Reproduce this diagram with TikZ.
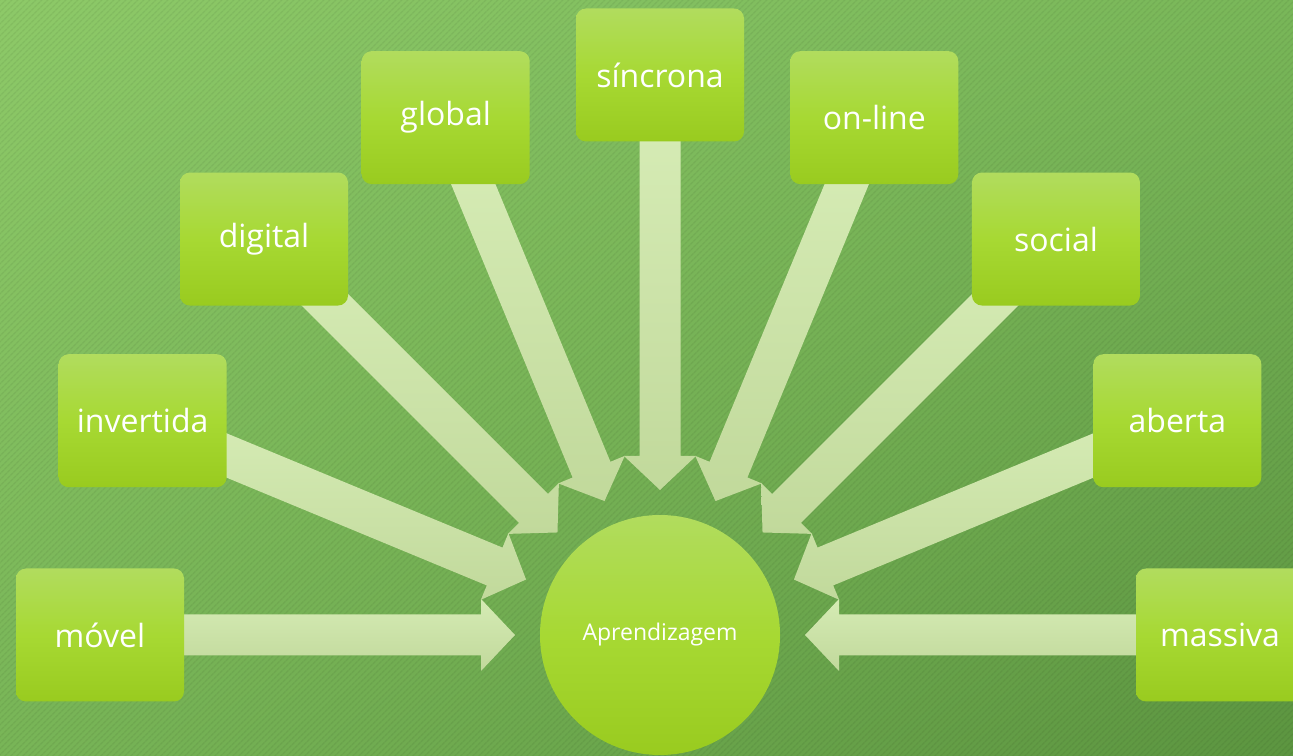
\documentclass[tikz,border=0pt]{standalone}
\usepackage{fontspec}
\setmainfont{Open Sans}
\usetikzlibrary{positioning,calc,patterns.meta,shadings}

\definecolor{fundoTE}{HTML}{8DC968}
\definecolor{fundoTD}{HTML}{79B759}
\definecolor{fundoBE}{HTML}{78B557}
\definecolor{fundoBD}{HTML}{5C9540}
\definecolor{caixaTopo}{HTML}{B1DC5E}
\definecolor{caixaMeio}{HTML}{A7D933}
\definecolor{caixaBase}{HTML}{99CB1F}
\definecolor{setaTopo}{HTML}{D5EBB4}
\definecolor{setaBase}{HTML}{C1D99B}

\pgfdeclarelayer{fundo}
\pgfdeclarelayer{setas}
\pgfsetlayers{fundo,setas,main}

% seta larga da caixa #1 ate a ponta #2
\newcommand{\setabloco}[2]{%
    \shade[top color=setaTopo, bottom color=setaBase]
        (#2)
        -- ($(#2)!34pt!(#1)!36pt!90:(#1)$)
        -- ($(#2)!34pt!(#1)!20.5pt!90:(#1)$)
        -- ($(#1)!60pt!(#2)!20.5pt!-90:(#2)$)
        -- ($(#1)!60pt!(#2)!20.5pt!90:(#2)$)
        -- ($(#2)!34pt!(#1)!20.5pt!-90:(#1)$)
        -- ($(#2)!34pt!(#1)!36pt!-90:(#1)$)
        -- cycle;%
}

\begin{document}
\begin{tikzpicture}[
    x=1pt, y=1pt,
    caixa/.style={
        rounded corners=10pt,
        top color=caixaTopo, bottom color=caixaBase, middle color=caixaMeio,
        minimum width=168pt,
        minimum height=133pt,
        inner sep=0pt,
        text=white,
        font=\fontsize{32}{38}\selectfont
    },
    centro/.style={
        circle,
        top color=caixaTopo, bottom color=caixaBase, middle color=caixaMeio,
        minimum size=240pt,
        inner sep=0pt,
        text=white,
        font=\fontsize{23}{28}\selectfont
    }
]
    \useasboundingbox (0,0) rectangle (1293,755);
    \clip (0,0) rectangle (1293,755);

    % Fundo
    \begin{pgfonlayer}{fundo}
        \shade[upper left=fundoTE, upper right=fundoTD,
               lower left=fundoBE, lower right=fundoBD] (0,0) rectangle (1293,755);
        \fill[pattern={Lines[angle=45, distance=4pt, line width=1.5pt]},
              pattern color=black, fill opacity=0.06] (0,0) rectangle (1293,755);
    \end{pgfonlayer}

    % Centro
    \node[centro] (apr) at (660,120) {Aprendizagem};

    % Caixas em volta
    \node[caixa] (movel)     at ([shift={(180:560)}]apr)   {móvel};
    \node[caixa] (invertida) at ([shift={(157.5:560)}]apr) {invertida};
    \node[caixa] (digital)   at ([shift={(135:560)}]apr)   {digital};
    \node[caixa] (global)    at ([shift={(112.5:560)}]apr) {global};
    \node[caixa] (sincrona)  at ([shift={(90:560)}]apr)    {síncrona};
    \node[caixa] (online)    at ([shift={(67.5:560)}]apr)  {on-line};
    \node[caixa] (social)    at ([shift={(45:560)}]apr)    {social};
    \node[caixa] (aberta)    at ([shift={(22.5:560)}]apr)  {aberta};
    \node[caixa] (massiva)   at ([shift={(0:560)}]apr)     {massiva};

    % Pontas das setas
    \coordinate (pmovel)     at ([shift={(180:145)}]apr.center);
    \coordinate (pinvertida) at ([shift={(157.5:145)}]apr.center);
    \coordinate (pdigital)   at ([shift={(135:145)}]apr.center);
    \coordinate (pglobal)    at ([shift={(112.5:145)}]apr.center);
    \coordinate (psincrona)  at ([shift={(90:145)}]apr.center);
    \coordinate (ponline)    at ([shift={(67.5:145)}]apr.center);
    \coordinate (psocial)    at ([shift={(45:145)}]apr.center);
    \coordinate (paberta)    at ([shift={(22.5:145)}]apr.center);
    \coordinate (pmassiva)   at ([shift={(0:145)}]apr.center);

    % Setas
    \begin{pgfonlayer}{setas}
        \setabloco{movel}{pmovel}
        \setabloco{invertida}{pinvertida}
        \setabloco{digital}{pdigital}
        \setabloco{global}{pglobal}
        \setabloco{sincrona}{psincrona}
        \setabloco{online}{ponline}
        \setabloco{social}{psocial}
        \setabloco{aberta}{paberta}
        \setabloco{massiva}{pmassiva}
    \end{pgfonlayer}
\end{tikzpicture}
\end{document}
